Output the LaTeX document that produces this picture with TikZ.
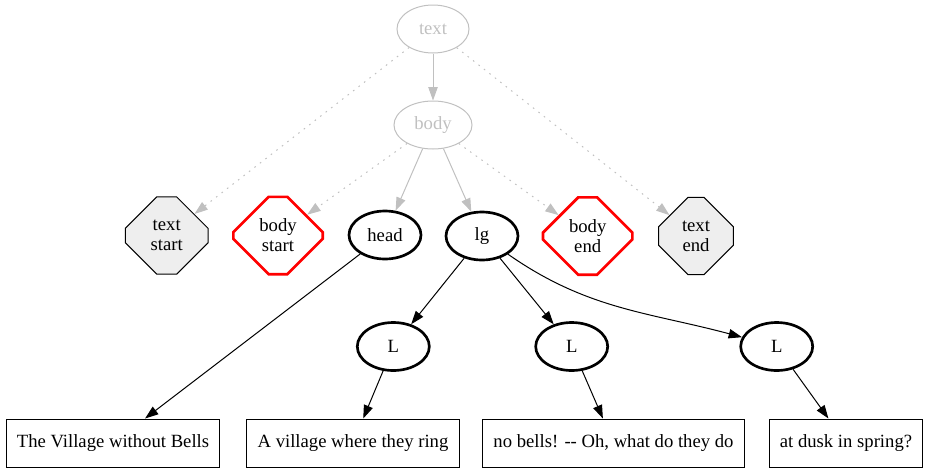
\documentclass[tikz,border=0pt]{standalone}
\usepackage{fontspec}
\setmainfont{Liberation Serif}
\usetikzlibrary{shapes.geometric, shapes.misc, arrows.meta}
\definecolor{lgray}{HTML}{C0C0C0}
\definecolor{pale}{HTML}{EEEEEE}

\begin{document}
\begin{tikzpicture}[x=0.75pt, y=-0.75pt,
                nodes={font=\fontsize{14}{15}\selectfont, inner sep=0, align=center},
                faint/.style={ellipse, draw=lgray, line width=0.75pt, text=lgray, minimum width=54pt, minimum height=36pt},
                elem/.style={ellipse, draw, line width=2pt, minimum width=54pt, minimum height=36pt},
                octo/.style={chamfered rectangle, draw, line width=0.75pt, fill=pale,
                    minimum width=#1, minimum height=58pt,
                    chamfered rectangle xsep=0.293*#1, chamfered rectangle ysep=17pt},
                redocto/.style={octo=#1, draw=red, line width=2pt, fill=white},
                seg/.style={rectangle, draw, line width=0.75pt, minimum height=36pt, inner xsep=8pt},
                tip/.style={-{Triangle[length=10pt, width=7pt]}},
                gedge/.style={tip, draw=lgray, line width=0.75pt},
                dotedge/.style={gedge, dash pattern=on 1.2pt off 4pt},
                bedge/.style={tip, draw, line width=0.75pt}]
            \useasboundingbox (0,0) rectangle (928,472);

            \node [faint] (txt) at (433,29) {text};
            \node [faint, minimum width=58.5pt] (body) at (433,125) {body};

            \node [octo=62pt] (tstart) at (166.7,235.5) {text\\start};
            \node [redocto=67pt] (bstart) at (278,235.5) {body\\start};
            \node [elem] (head) at (385,235) {head};
            \node [elem] (lg) at (482,236) {lg};
            \node [redocto=67pt] (bend) at (587.7,236) {body\\end};
            \node [octo=56pt] (tend) at (696,236) {text\\end};

            \node [elem] (l1) at (393.3,346.5) {L};
            \node [elem] (l2) at (571.7,346.5) {L};
            \node [elem] (l3) at (776.7,346.5) {L};

            \node [seg] (s1) at (113,443) {The Village without Bells};
            \node [seg] (s2) at (353,443) {A village where they ring};
            \node [seg] (s3) at (613.5,443) {no bells! -{}- Oh, what do they do};
            \node [seg] (s4) at (846,443) {at dusk in spring?};

            \draw [gedge] (txt) -- (body);
            \path (txt) edge [dotedge] (tstart);
            \path (txt) edge [dotedge] (tend);
            \path (body) edge [dotedge] (bstart);
            \path (body) edge [dotedge] (bend);
            \path (body) edge [gedge] (head);
            \path (body) edge [gedge] (lg);

            \draw [bedge] (head) -- (s1);
            \draw [bedge] (lg) -- (l1);
            \draw [bedge] (lg) -- (l2);
            \draw [bedge] (lg) to [out=-35, in=165] (l3);
            \draw [bedge] (l1) -- (s2);
            \draw [bedge] (l2) -- (s3);
            \draw [bedge] (l3) -- (s4);
        \end{tikzpicture}
\end{document}
